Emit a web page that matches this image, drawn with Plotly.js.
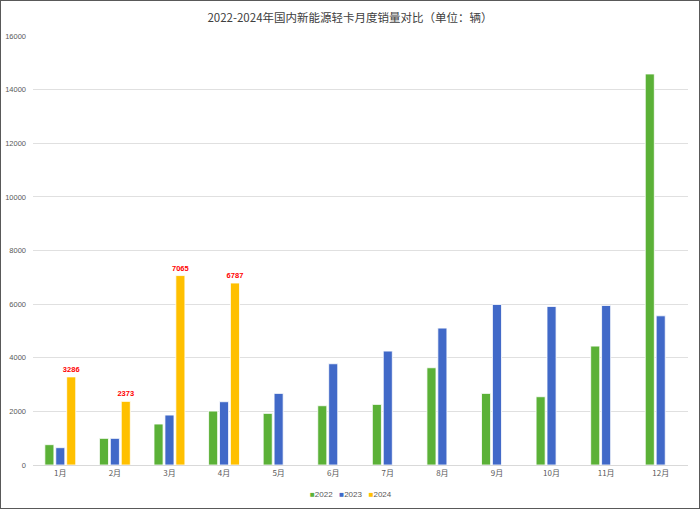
<!DOCTYPE html>
<html><head><meta charset="utf-8">
<script src="https://cdn.plot.ly/plotly-3.0.1.min.js"></script>
<style>html,body{margin:0;padding:0;background:#fff}#c{width:698px;height:507px;border:1px solid #595959}</style>
</head><body><div id="c"></div>
<script>
const months = ['1月','2月','3月','4月','5月','6月','7月','8月','9月','10月','11月','12月'];
const s2022 = [758, 994, 1528, 2012, 1925, 2211, 2260, 3627, 2670, 2546, 4434, 14584];
const s2023 = [646, 994, 1863, 2360, 2670, 3776, 4248, 5105, 5987, 5912, 5949, 5564];
const s2024 = [3286, 2373, 7065, 6787, null, null, null, null, null, null, null, null];
const names = ['2022','2023','2024'];
const colors = ['#5BB137','#4169C8','#FFC000'];
const series = [s2022, s2023, s2024];
const traces = series.map((s,i)=>({
  type:'bar', x: months, y: s, name: names[i],
  marker:{color: colors[i], line:{color:'rgba(255,255,255,0.8)', width:1}},
  text: i===2 ? s.map(v=>v==null?'':String(v)) : undefined,
  textposition: i===2 ? 'outside' : 'none',
  constraintext:'none',
  textfont:{color:'#FF0000', size:7.5, family:'Liberation Sans, Arial', weight:'bold'},
  cliponaxis:false,
  hoverinfo:'none'
}));
const legendText = names.map((n,i)=>`<span style="color:${colors[i]}">■</span>${n}`).join('   ');
const layout = {
  width:698, height:507,
  margin:{l:32, r:11, t:35, b:43},
  paper_bgcolor:'#fff', plot_bgcolor:'#fff',
  title:{text:'2022-2024年国内新能源轻卡月度销量对比（单位：辆）', x:0.5, xanchor:'center', y:0.966, yanchor:'middle',
    font:{family:'Noto Sans CJK SC', size:11.5, color:'#404040'}},
  barmode:'group', bargap:0.4, bargroupgap:0.17,
  xaxis:{type:'category', showgrid:false, showline:true, linecolor:'#D9D9D9', linewidth:1, ticks:'',
    tickfont:{family:'Noto Sans CJK SC', size:8, color:'#595959'}},
  yaxis:{range:[0,16000], dtick:2000, tickformat:'d', showgrid:true, gridcolor:'#E0E0E0', gridwidth:1,
    zeroline:false, showline:false, ticks:'', ticklabelstandoff:6,
    tickfont:{family:'Liberation Sans, Arial', size:7.5, color:'#595959'}},
  showlegend:false,
  annotations:[{xref:'paper', yref:'paper', x:(350-32)/655, y:-0.068, xanchor:'center', yanchor:'middle',
    showarrow:false, text:legendText, font:{family:'Liberation Sans, Arial', size:8, color:'#595959'}}],
  font:{family:'Liberation Sans, Arial'}
};
Plotly.newPlot('c', traces, layout, {displayModeBar:false, staticPlot:true});
</script></body></html>
